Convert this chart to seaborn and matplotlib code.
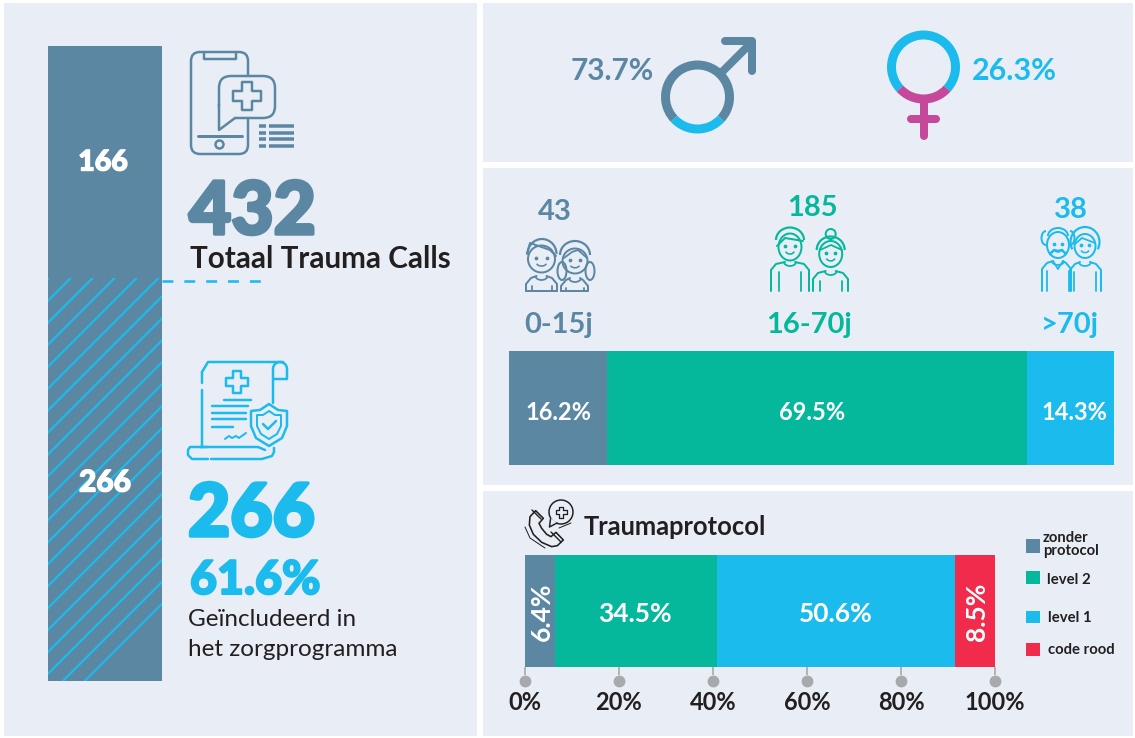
"""
Trauma calls infographic: totals, gender split, age groups and trauma protocol
"""

import numpy as np
import pandas as pd
import matplotlib
matplotlib.use("Agg")
import matplotlib.pyplot as plt
import matplotlib.patheffects as pe
from matplotlib.patches import Arc, Circle, Ellipse, FancyBboxPatch, Polygon, Rectangle, Wedge
import seaborn as sns

# Data
total_calls = 432
call_parts = [166, 266]
included_pct = 61.6
included_label = ["Geïncludeerd in", "het zorgprogramma"]
total_label = "Totaal Trauma Calls"

male_pct = 73.7
female_pct = 26.3

age_groups = ["0-15j", "16-70j", ">70j"]
age_counts = [43, 185, 38]
age_pcts = [16.2, 69.5, 14.3]

protocol_title = "Traumaprotocol"
protocol_names = ["zonder\nprotocol", "level 2", "level 1", "code rood"]
protocol_pcts = [6.4, 34.5, 50.6, 8.5]
tick_values = [0, 20, 40, 60, 80, 100]

# Colours
BLUE = "#5C87A3"
GREEN = "#05B89C"
CYAN = "#1BBBEE"
RED = "#F02B4B"
MAGENTA = "#C5489B"
PANEL = "#E9EEF6"
DARK = "#231F20"
GREY = "#A7A9AC"

W, H = 1135, 738
PX = 0.72  # one pixel in points at dpi 100

sns.set_theme(style="white")
plt.rcParams["font.family"] = ["Lato", "DejaVu Sans"]

fig = plt.figure(figsize=(W / 100, H / 100), dpi=100, facecolor="white")


def pixel_axes(zorder):
    ax = fig.add_axes([0, 0, 1, 1], zorder=zorder)
    ax.set_xlim(0, W)
    ax.set_ylim(H, 0)
    ax.axis("off")
    ax.patch.set_alpha(0)
    return ax


def box_axes(x0, y0, x1, y1):
    """Axes covering a box given in picture pixels"""
    return fig.add_axes([x0 / W, 1 - y1 / H, (x1 - x0) / W, (y1 - y0) / H], zorder=2)


def stacked_bar(ax, values, colors):
    left = 0
    for value, color in zip(values, colors):
        sns.barplot(x=[value], y=[0], orient="h", left=left, width=1, color=color,
                    saturation=1, errorbar=None, linewidth=0, ax=ax)
        left += value
    ax.set_xlim(0, 100)
    ax.set_ylim(-0.5, 0.5)
    ax.set_xlabel("")
    ax.set_ylabel("")
    ax.set_yticks([])
    sns.despine(ax=ax, left=True, bottom=True)


def upright_bar(ax, value):
    sns.barplot(x=[0], y=[value], width=1, color=BLUE, saturation=1,
                errorbar=None, linewidth=0, ax=ax)
    ax.set_xlim(-0.5, 0.5)
    ax.set_ylim(0, value)
    ax.axis("off")


bg = pixel_axes(0)
for x0, y0, x1, y1 in [(4, 3, 477, 736), (483, 3, 1133, 162),
                       (483, 168, 1133, 485), (483, 491, 1133, 736)]:
    bg.add_patch(Rectangle((x0, y0), x1 - x0, y1 - y0, color=PANEL, lw=0))

# Bars
upright_bar(box_axes(48, 46, 162, 278), call_parts[0])
upright_bar(box_axes(48, 278, 162, 681), call_parts[1])

age_ax = box_axes(509, 351, 1114, 465)
stacked_bar(age_ax, age_pcts, [BLUE, GREEN, CYAN])
age_ax.set_xticks([])

prot_ax = box_axes(525, 555, 995, 667)
stacked_bar(prot_ax, protocol_pcts, [BLUE, GREEN, CYAN, RED])
prot_ax.set_xticks(tick_values)
prot_ax.set_xticklabels([f"{t}%" for t in tick_values], fontsize=17, fontweight="bold",
                        color=DARK)
prot_ax.tick_params(axis="x", length=6, width=1.2, color=GREY, pad=11, bottom=True)
prot_ax.plot(tick_values, [-0.625] * len(tick_values), "o", ms=7.5, color=GREY, clip_on=False)
prot_ax.set_ylim(-0.5, 0.5)
prot_ax.set_xlim(0, 100)

# Everything else goes on top, in picture pixels
top = pixel_axes(5)


def line(xs, ys, color, lw=2.5, **kw):
    kw.setdefault("solid_capstyle", "round")
    kw.setdefault("zorder", 4)
    top.plot(xs, ys, color=color, lw=lw * PX, **kw)


def rrect(x, y, w, h, r, color, lw=2.5, fill="none", zorder=3):
    top.add_patch(FancyBboxPatch((x + r, y + r), w - 2 * r, h - 2 * r,
                                 boxstyle=f"round,pad={r},rounding_size={r}",
                                 fc=fill, ec=color, lw=lw * PX, zorder=zorder))


def circle(x, y, r, color, lw=2.5, fill="none", zorder=4):
    top.add_patch(Circle((x, y), r, fc=fill, ec=color, lw=lw * PX, zorder=zorder))


def oval(x, y, w, h, color, lw=2, fill="none", zorder=4):
    top.add_patch(Ellipse((x, y), w, h, fc=fill, ec=color, lw=lw * PX, zorder=zorder))


def arc(x, y, w, h, t1, t2, color, lw=2.5):
    top.add_patch(Arc((x, y), w, h, theta1=t1, theta2=t2, color=color, lw=lw * PX, zorder=4))


def plus(x, y, size, arm, color, lw=2.5, fill="none"):
    pts = [(-arm, -size), (arm, -size), (arm, -arm), (size, -arm), (size, arm), (arm, arm),
           (arm, size), (-arm, size), (-arm, arm), (-size, arm), (-size, -arm), (-arm, -arm)]
    top.add_patch(Polygon([(x + a, y + b) for a, b in pts], closed=True, fc=fill, ec=color,
                          lw=lw * PX, joinstyle="round", zorder=5))


def label(x, y, s, size, color, weight="bold", ha="center", heavy=0, **kw):
    txt = top.text(x, y, s, fontsize=size, color=color, fontweight=weight, ha=ha,
                   va="center_baseline", zorder=10, **kw)
    if heavy:
        # the font stops short of the original's very heavy numerals
        txt.set_path_effects([pe.withStroke(linewidth=heavy, foreground=color)])


def ring(cx, cy, radius, width, pct, main, low):
    """Ring with the given share of the circle marked, centred on the bottom"""
    half = pct / 100 * 360 / 2
    top.add_patch(Wedge((cx, cy), radius, 90 + half, 90 - half + 360, width=width, fc=main, lw=0))
    top.add_patch(Wedge((cx, cy), radius, 90 - half, 90 + half, width=width, fc=low, lw=0))


# Hatching and dashed line on the 266 part
clip = Rectangle((48, 278), 114, 403, transform=top.transData)
for k in np.arange(-13, 20):
    s = 348.7 + 21.95 * k
    hatch, = top.plot([s - 278, s - 681], [278, 681], color=CYAN, lw=2.2 * PX)
    hatch.set_clip_path(clip)
top.plot([162, 263], [280.5, 280.5], color=CYAN, lw=2.6 * PX, dashes=(4.2, 4.2), dash_capstyle="butt")

label(103, 160, str(call_parts[0]), 20.5, "white", weight="black", heavy=1)
label(105, 480, str(call_parts[1]), 21.5, "white", weight="black", heavy=1)

# Phone icon
rrect(191, 52, 57, 102, 9, BLUE)
line([204, 204, 236, 236], [53, 59, 59, 53], BLUE)
line([198, 242], [136, 136], BLUE, lw=3)
circle(219.5, 144.5, 4, BLUE)
rrect(219, 76, 56, 42, 12, BLUE, fill=PANEL, zorder=4)
top.add_patch(Polygon([(219, 104), (219, 130), (236, 118)], closed=True, fc=PANEL, ec="none", zorder=4))
line([219, 219, 235], [104, 130, 118], BLUE, zorder=5)
plus(247, 96, 14, 5, BLUE)
for y in [126, 132.5, 139, 146]:
    line([259, 266], [y, y], BLUE, lw=3.5, solid_capstyle="butt")
    line([269, 294], [y, y], BLUE, lw=3.5, solid_capstyle="butt")

label(189, 207, str(total_calls), 52.5, BLUE, weight="black", ha="left", heavy=2.5)
label(190, 256, total_label, 21.3, DARK, ha="left")

# Document icon
line([202, 202], [390, 447], CYAN)
line([202, 202], [372, 383], CYAN)
line([202, 208, 283], [372, 362, 362], CYAN)
arc(280, 369, 14, 14, 270, 360, CYAN)
arc(280, 369, 14, 14, 180, 270, CYAN)
line([287, 287, 273], [369, 379, 379], CYAN)
line([273, 273], [369, 403], CYAN)
plus(237, 382, 11, 4, CYAN)
for x0, x1, y in [(224, 251, 400), (212, 248, 406), (212, 246, 413), (212, 246, 419), (212, 233, 427)]:
    line([x0, x1], [y, y], CYAN)
line([225, 229, 232, 236, 239, 246], [439, 436, 438, 436, 438, 433], CYAN, lw=2)
top.add_patch(Polygon([(269, 404), (278, 410), (287, 411), (287, 426), (282, 438), (269, 446),
                       (256, 438), (251, 426), (251, 411), (260, 410)], closed=True,
                      fc=PANEL, ec=CYAN, lw=2.5 * PX, joinstyle="round", zorder=4))
top.add_patch(Polygon([(269, 411), (275, 415), (281, 415), (281, 426), (277, 434), (269, 439),
                       (261, 434), (257, 426), (257, 415), (263, 415)], closed=True,
                      fc="none", ec=CYAN, lw=2 * PX, joinstyle="round", zorder=5))
top.plot([263, 268, 276], [424, 429, 421], color=CYAN, lw=2.5 * PX, zorder=6)
line([207, 190, 188, 188, 192, 208], [447, 447, 450, 455, 459, 459], CYAN)
line([211, 262, 272, 274, 274], [459, 459, 456, 452, 448], CYAN)
line([200, 258, 265], [447, 447, 450], CYAN)

label(188, 509, str(call_parts[1]), 52.5, CYAN, weight="black", ha="left", heavy=2.5)
label(190, 576, f"{included_pct}%", 33.5, CYAN, weight="black", ha="left", heavy=1.5)
label(188, 617, included_label[0], 17.5, DARK, weight="normal", ha="left")
label(188, 647, included_label[1], 17.5, DARK, weight="normal", ha="left")

# Gender symbols
ring(697.5, 97, 36.5, 9, 100 - male_pct, BLUE, CYAN)
line([720, 752], [74, 42], BLUE, lw=8, solid_capstyle="butt")
line([725, 752, 752], [41, 41, 71], BLUE, lw=8, solid_joinstyle="round")
label(612, 69, f"{male_pct}%", 21.5, BLUE)

ring(923.5, 67, 36.5, 9, female_pct, CYAN, MAGENTA)
line([923.5, 923.5], [103, 136], MAGENTA, lw=8)
line([911, 936], [119, 119], MAGENTA, lw=8)
label(1014, 68, f"{female_pct}%", 22, CYAN)


# Age group icons
def person(cx, cy, fw, fh, x0, x1, top_y, color, inner, closed=False, bottom=291):
    """Face, eyes, smile, shoulders and arms of one little figure"""
    oval(cx, cy, fw, fh, color)
    arc(cx, cy + 3, fw * 0.4, fh * 0.3, 20, 160, color, lw=1.6)
    top.plot([cx - fw * 0.2, cx + fw * 0.2], [cy - 1, cy - 1], ls="none", marker="o", ms=1.7, color=color)
    line([x0, x0, x0 + 5, cx - 5], [bottom, top_y + 8, top_y + 2, top_y], color, lw=2)
    line([x1, x1, x1 - 5, cx + 5], [bottom, top_y + 8, top_y + 2, top_y], color, lw=2)
    arc(cx, top_y, 12, 8, 0, 180, color, lw=1.8)
    line([cx - inner, cx - inner], [top_y + 10, bottom], color, lw=1.8)
    line([cx + inner, cx + inner], [top_y + 10, bottom], color, lw=1.8)
    if closed:
        line([x0, x1], [bottom, bottom], color, lw=2)


# children
person(541.5, 259, 27, 27, 526, 557, 276, BLUE, 10, closed=True)
arc(542, 254, 29, 30, 180, 360, BLUE, lw=2.2)
line([527, 530, 550, 556], [254, 243, 250, 256], BLUE, lw=2)
person(575, 261, 25, 25, 561, 588, 278, BLUE, 9, closed=True)
arc(575, 255, 30, 28, 180, 360, BLUE, lw=2.2)
line([564, 572, 578, 587], [258, 252, 250, 258], BLUE, lw=1.8)
oval(562, 271, 9, 18, BLUE)
oval(590, 271, 9, 18, BLUE)
# adults
person(790, 247, 23, 27, 771, 809, 262, GREEN, 11)
arc(790, 240, 28, 25, 180, 360, GREEN, lw=2.2)
line([777, 785, 803], [246, 238, 241], GREEN, lw=2)
person(830.7, 254, 23, 26, 813, 848, 271, GREEN, 11)
arc(830.7, 250, 28, 27, 180, 360, GREEN, lw=2.2)
circle(830.7, 234, 5, GREEN, lw=2)
line([820, 831, 842], [250, 245, 250], GREEN, lw=1.8)
# elderly
person(1058, 245, 22, 26, 1042, 1071, 261, CYAN, 11)
arc(1046, 238, 9, 14, 90, 270, CYAN, lw=2)
arc(1070, 238, 9, 14, 270, 450, CYAN, lw=2)
arc(1058, 236, 20, 16, 180, 360, CYAN, lw=2)
line([1050, 1054, 1058, 1062, 1066], [254, 250, 251, 250, 254], CYAN, lw=2.5)
line([1053, 1058, 1063], [261, 269, 261], CYAN, lw=1.8)
person(1085, 246, 21, 24, 1070, 1101, 262, CYAN, 11)
arc(1085, 242, 29, 30, 150, 390, CYAN, lw=2.2)
line([1075, 1082, 1095], [244, 238, 243], CYAN, lw=1.8)

for name, count, color, cx, cy, nx in zip(age_groups, age_counts, [BLUE, GREEN, CYAN],
                                          [555, 812, 1071], [209, 205, 207], [559, 809, 1070]):
    label(cx, cy, str(count), 21, color)
    label(nx, 323, name, 21, color)

for pct, x in zip(age_pcts, [558, 812, 1074]):
    label(x, 411, f"{pct}%", 17, "white")

# Traumaprotocol block: handset and speech bubble
handset = [(47, 47), (30, 65), (28, 90), (40, 118), (65, 142), (95, 155), (112, 152), (130, 135),
           (108, 112), (93, 125), (80, 118), (65, 100), (57, 85), (70, 70)]
top.add_patch(Polygon([(520 + a / 3, 495 + b / 3) for a, b in handset], closed=True, fc="none",
                      ec=DARK, lw=1.6 * PX, joinstyle="round", zorder=4))
line([525, 530, 545], [527, 538, 548], DARK, lw=1)
line([532, 541], [510, 519], DARK, lw=1.4)
line([551, 561], [532, 542], DARK, lw=1.4)
circle(561, 512, 12, DARK, lw=1.5, fill=PANEL)
top.add_patch(Polygon([(551, 518), (549, 527), (557, 523)], closed=True, fc=PANEL, ec="none", zorder=4))
line([550.5, 549.5, 557], [519, 527, 523], DARK, lw=1.5, zorder=5)
plus(561, 512, 5.5, 2, DARK, lw=1.3)
line([559, 571], [528, 523], DARK, lw=1)
label(584, 525, protocol_title, 18.4, DARK, ha="left")

for pct, x, rot in zip(protocol_pcts, [540, 635, 836, 975], [90, 0, 0, 90]):
    label(x, 612, f"{pct}%", 19, "white", rotation=rot, rotation_mode="anchor")

for name, color, y0, y1, tx, ty in zip(protocol_names, [BLUE, GREEN, CYAN, RED],
                                       [539, 571, 611, 643], [553, 584, 623, 656],
                                       [1043, 1047, 1048, 1048], [543, 578, 617, 648]):
    top.add_patch(Rectangle((1026, y0), 14, y1 - y0, color=color, lw=0))
    if "\n" in name:
        for part, yy in zip(name.split("\n"), [ty - 6, ty + 6]):
            label(tx, yy, part, 10.7, DARK, ha="left")
    else:
        label(tx, ty, name, 10.7, DARK, ha="left")

fig.savefig("out.png", dpi=100)
plt.close(fig)
